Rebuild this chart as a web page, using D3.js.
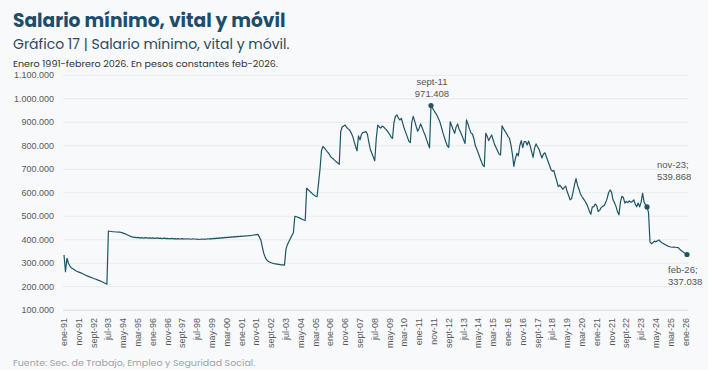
<html>
<head>
<meta charset="utf-8">
<script src="https://cdn.jsdelivr.net/npm/d3@7"></script>
<style>
  body { margin: 0; background: #f7f9fb; }
  svg { display: block; }
</style>
</head>
<body>
<svg width="708" height="370"></svg>
<script>
  // Salario mínimo, vital y móvil, en miles de pesos constantes de feb-2026
  // un valor por mes, desde ene-91 hasta feb-26
  const meses = ["ene", "feb", "mar", "abr", "may", "jun", "jul", "ago", "sept", "oct", "nov", "dic"];
  const inicio = 1991;

  const smvmMiles = [
    // 1991
    335, 264, 321, 300, 288, 280, 276, 272, 268, 265, 262, 260,
    // 1992
    257, 254, 251, 248, 245, 243, 240, 238, 235, 233, 231, 228,
    // 1993
    226, 223, 220, 217, 214, 211, 437, 436, 435, 434, 434, 433,
    // 1994
    433, 432, 432, 430, 428, 426, 423, 420, 417, 414, 412, 411,
    // 1995
    410, 409, 410, 408, 409, 408, 407, 409, 408, 407, 408, 407,
    // 1996
    408, 406, 407, 408, 406, 407, 405, 406, 407, 405, 406, 404,
    // 1997
    405, 406, 404, 405, 404, 405, 403, 404, 405, 403, 404, 403,
    // 1998
    404, 403, 402, 404, 403, 402, 403, 401, 402, 403, 402, 403,
    // 1999
    402, 404, 403, 405, 404, 406, 405, 407, 406, 408, 407, 409,
    // 2000
    408, 410, 409, 411, 410, 412, 411, 413, 412, 414, 413, 415,
    // 2001
    414, 416, 415, 417, 416, 418, 417, 419, 420, 421, 422, 423,
    // 2002
    412, 399, 370, 342, 325, 314, 308, 304, 302, 300, 298, 297,
    // 2003
    296, 295, 294, 293, 293, 292, 360, 380, 392, 405, 418, 430,
    // 2004
    500, 498, 496, 493, 490, 487, 484, 482, 619, 613, 607, 601,
    // 2005
    595, 590, 585, 583, 640, 700, 780, 797, 790, 782, 774, 767,
    // 2006
    755, 749, 744, 738, 732, 727, 721, 860, 880, 884, 888, 878,
    // 2007
    872, 867, 855, 842, 820, 798, 778, 842, 825, 848, 857, 858,
    // 2008
    860, 850, 815, 785, 768, 752, 736, 830, 888, 880, 875, 884,
    // 2009
    880, 873, 867, 858, 849, 838, 832, 900, 926, 931, 918, 910,
    // 2010
    917, 893, 872, 855, 838, 820, 813, 900, 925, 905, 882, 862,
    // 2011
    875, 893, 878, 860, 846, 826, 808, 791, 971.408, 960, 950, 940,
    // 2012
    930, 916, 902, 880, 857, 837, 817, 800, 793, 902, 885, 868,
    // 2013
    853, 880, 893, 870, 858, 843, 826, 810, 910, 892, 872, 855,
    // 2014
    850, 830, 800, 785, 768, 750, 733, 718, 711, 853, 840, 822,
    // 2015
    835, 846, 825, 805, 792, 779, 765, 761, 885, 873, 862, 853,
    // 2016
    840, 832, 805, 765, 712, 745, 768, 757, 800, 822, 792, 818,
    // 2017
    818, 803, 820, 800, 775, 751, 790, 808, 795, 785, 765, 748,
    // 2018
    765, 770, 752, 735, 718, 700, 692, 695, 672, 650, 626, 632,
    // 2019
    625, 615, 622, 628, 605, 588, 570, 575, 603, 635, 660, 632,
    // 2020
    615, 595, 584, 575, 565, 555, 540, 522, 508, 540, 540, 552,
    // 2021
    545, 520, 525, 537, 542, 545, 558, 575, 600, 612, 603, 570,
    // 2022
    558, 542, 520, 506, 560, 585, 580, 556, 563, 558, 565, 560,
    // 2023
    562, 570, 552, 540, 556, 540, 560, 598, 560, 548, 539.868, 515,
    // 2024
    390, 383, 388, 394, 391, 396, 399, 393, 387, 384, 380, 377,
    // 2025
    373, 371, 369, 368, 369, 368, 367, 367, 360, 354, 350, 345,
    // 2026
    341, 337.038
  ];

  const yTicks = [100000, 200000, 300000, 400000, 500000, 600000, 700000, 800000, 900000, 1000000, 1100000];
  const pasoTicks = 10; // una etiqueta cada 10 meses

  // puntos destacados: índice del mes y texto
  const destacados = [
    {i: 248, lineas: ["sept-11", "971.408"]},
    {i: 394, lineas: ["nov-23;", "539.868"]},
    {i: 421, lineas: ["feb-26;", "337.038"]}
  ];

  const data = smvmMiles.map((v, i) => ({i: i, valor: v * 1000}));
  const etiquetaMes = i => meses[i % 12] + "-" + String((inicio + Math.floor(i / 12)) % 100).padStart(2, "0");

  const svg = d3.select("svg");
  const fmt = d3.formatLocale({decimal: ",", thousands: ".", grouping: [3], currency: ["$", ""]}).format(",.0f");

  const x = d3.scaleLinear().domain([0, smvmMiles.length - 1]).range([64, 687]);
  const y = d3.scaleLinear().domain([100000, 1100000]).range([310.2, 75.3]);

  // títulos
  svg.append("text").attr("x", 13).attr("y", 27)
    .attr("font-family", "Poppins, Lato, sans-serif").attr("font-weight", 700)
    .attr("font-size", 18.6).attr("fill", "#1e4d6b")
    .text("Salario mínimo, vital y móvil");
  svg.append("text").attr("x", 13).attr("y", 49)
    .attr("font-family", "Poppins, Lato, sans-serif")
    .attr("font-size", 14).attr("fill", "#2c4a60")
    .text("Gráfico 17 | Salario mínimo, vital y móvil.");
  svg.append("text").attr("x", 13).attr("y", 66.5)
    .attr("font-family", "Poppins, Lato, sans-serif")
    .attr("font-size", 9.6).attr("fill", "#333")
    .text("Enero 1991-febrero 2026. En pesos constantes feb-2026.");

  // grilla
  svg.append("g")
    .selectAll("line")
    .data(yTicks)
    .enter()
    .append("line")
    .attr("x1", 63).attr("x2", 688)
    .attr("y1", d => y(d)).attr("y2", d => y(d))
    .attr("stroke", d => d === 100000 ? "#dadde1" : "#e8ebee")
    .attr("stroke-width", 1);

  // eje y
  svg.append("g")
    .selectAll("text")
    .data(yTicks)
    .enter()
    .append("text")
    .attr("x", 54).attr("y", d => y(d) + 3)
    .attr("text-anchor", "end")
    .attr("font-family", "Liberation Sans, Arial, sans-serif")
    .attr("font-size", 9).attr("fill", "#595959")
    .text(d => fmt(d));

  // eje x
  const xTicks = d3.range(0, smvmMiles.length, pasoTicks);
  svg.append("g")
    .selectAll("text")
    .data(xTicks)
    .enter()
    .append("text")
    .attr("transform", d => `translate(${x(d) + 3},318) rotate(-90)`)
    .attr("text-anchor", "end")
    .attr("font-family", "Liberation Sans, Arial, sans-serif")
    .attr("font-size", 9).attr("fill", "#595959")
    .text(d => etiquetaMes(d));

  // línea
  const line = d3.line().x(d => x(d.i)).y(d => y(d.valor));
  svg.append("path")
    .datum(data)
    .attr("d", line)
    .attr("fill", "none")
    .attr("stroke", "#1d5566")
    .attr("stroke-width", 1.2)
    .attr("stroke-linejoin", "round");

  // marcadores
  svg.append("g")
    .selectAll("circle")
    .data(destacados)
    .enter()
    .append("circle")
    .attr("cx", d => x(d.i)).attr("cy", d => y(data[d.i].valor))
    .attr("r", 2.6)
    .attr("fill", "#1d5566");

  // rótulos de datos
  const rot = svg.append("g")
    .attr("font-family", "Liberation Sans, Arial, sans-serif")
    .attr("font-size", 9.5).attr("fill", "#555");
  // sept-11, arriba y centrado
  rot.append("text").attr("x", x(248) + 1).attr("y", y(data[248].valor) - 21)
    .attr("text-anchor", "middle").text(destacados[0].lineas[0]);
  rot.append("text").attr("x", x(248) + 1).attr("y", y(data[248].valor) - 9)
    .attr("text-anchor", "middle").text(destacados[0].lineas[1]);
  // nov-23, arriba a la derecha
  rot.append("text").attr("x", 657).attr("y", y(data[394].valor) - 39).text(destacados[1].lineas[0]);
  rot.append("text").attr("x", 657).attr("y", y(data[394].valor) - 27).text(destacados[1].lineas[1]);
  // feb-26, debajo
  rot.append("text").attr("x", 668).attr("y", y(data[421].valor) + 18).text(destacados[2].lineas[0]);
  rot.append("text").attr("x", 668).attr("y", y(data[421].valor) + 30).text(destacados[2].lineas[1]);

  // fuente
  svg.append("text").attr("x", 13).attr("y", 366)
    .attr("font-family", "Poppins, Lato, sans-serif")
    .attr("font-size", 9.5).attr("fill", "#a0a4a8")
    .text("Fuente: Sec. de Trabajo, Empleo y Seguridad Social.");
</script>
</body>
</html>
